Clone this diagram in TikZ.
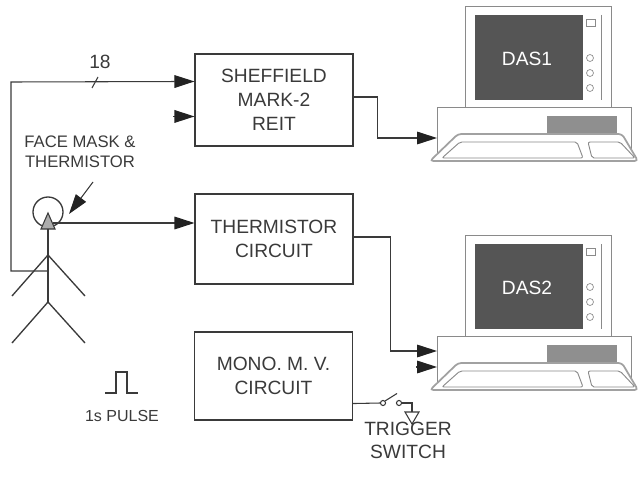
\documentclass[tikz,border=0pt]{standalone}
\usepackage{fontspec}
\setmainfont{Liberation Sans}
\usetikzlibrary{arrows.meta,calc}
\definecolor{ink}{HTML}{3A3A3A}
\definecolor{tipc}{HTML}{222222}
\definecolor{screen}{HTML}{555555}
\definecolor{slot}{HTML}{8F8F8F}
\definecolor{case}{HTML}{8A8A8A}
\begin{document}
\begin{tikzpicture}[x=0.75pt,y=-0.75pt,
  wire/.style={draw=ink, line width=0.8pt},
  arr/.style={wire, -{Triangle[length=15pt,width=9.5pt,color=tipc,fill=tipc]}},
  block/.style={draw=ink, line width=0.8pt, minimum width=118.5pt, inner sep=0pt,
    align=center, text=ink, font=\fontsize{14.4}{18}\selectfont},
  lbl/.style={text=ink, inner sep=0pt, align=center, font=\fontsize{14.4}{17.25}\selectfont},
  small/.style={text=ink, inner sep=0pt, align=center, font=\fontsize{12.5}{15}\selectfont},
  body/.style={draw=ink, line width=1pt},
  hw/.style={draw=case, line width=0.7pt},
  computer/.pic={
    % system unit
    \draw[hw, fill=white] (-28,101) rectangle (166,150);
    \coordinate (-in1) at (-28,116);
    \coordinate (-in2) at (-28,132);
    \fill[slot] (82,110) rectangle (152,127);
    % keyboard
    \draw[case!80, line width=1.3pt, fill=white, rounded corners=2.5pt]
      (-7,128) -- (157,128) -- (173,155) -- (-35,155) -- cycle;
    \draw[hw, rounded corners=1.5pt] (-5,136) -- (112,136) -- (118,152) -- (-23,152) -- cycle;
    \draw[hw, rounded corners=1.5pt] (123,136) -- (155,136) -- (170,152) -- (127,152) -- cycle;
    % monitor
    \draw[hw, fill=white] (0,0) rectangle (146,101);
    \fill[screen] (10,9) rectangle (118,94);
    \draw[hw] (136,9) -- (136,94);
    \draw[hw, line width=0.5pt] (121,13) rectangle (130,20);
    \foreach \cy in {52,67,82} \draw[hw, line width=0.5pt] (125,\cy) circle[radius=2.6pt];
    \node[text=white, font=\fontsize{14.4}{17}\selectfont, inner sep=0pt] (-label) at (62,53) {#1};
  }
]
\useasboundingbox (0,0) rectangle (640,478);

% processing blocks
\node[block, minimum height=69pt] (sheff) at (274,100) {SHEFFIELD\\MARK-2\\REIT};
\node[block, minimum height=67.5pt] (therm) at (274,239) {THERMISTOR\\CIRCUIT};
\node[block, minimum height=66pt] (mono) at (273.5,376) {MONO. M. V.\\CIRCUIT};

% data acquisition computers
\pic (das1) at (465,6) {computer=DAS1};
\pic (das2) at (465,235) {computer=DAS2};

% subject with face mask
\node[draw=ink, line width=1pt, circle, minimum size=22.5pt, inner sep=0pt] (head) at (48,212) {};
\filldraw[fill=gray!65, draw=ink, line width=0.8pt] (48,213) -- (55,229) -- (41,229) -- cycle;
\coordinate (sensor) at (53,223);
\coordinate (neck) at (48,229);
\coordinate (hip) at (48,302);
\coordinate (chest) at (48,271);
\draw[body] (neck) -- (hip);
\draw[body] (12,296) -- (48,255) -- (85,296);
\draw[body] (12,343) -- (hip) -- (85,343);

% electrode leads to the REIT system
\path (sheff.north west) ++(0,28) coordinate (s1);
\path (sheff.north west) ++(0,63) coordinate (s2);
\draw[arr] (chest) -- (11,271) -- (11,82) -- (s1);
\draw[wire] (92,88) -- (98,77);
\node[lbl] (n18) at (100,62) {18};
\draw[arr] ($(s2)+(-21,0)$) -- (s2);

% face mask label
\node[small] (fm) at (80,152) {FACE MASK \&\\THERMISTOR};
\coordinate (fmtail) at (93,182);
\coordinate (fmtip) at (69,214);
\draw[arr] (fmtail) -- (fmtip);

% thermistor signal
\draw[arr] (sensor) -- (therm.west |- sensor);

% pulse symbol
\draw[wire] (105,393) -- (116,393) -- (116,372) -- (127,372) -- (127,393) -- (138,393);
\node[small, font=\fontsize{12}{14}\selectfont] (pulse) at (122,416) {1s PULSE};

% outputs to the computers
\draw[arr] ([yshift=2.25pt]sheff.east) -- ++(24,0) |- (das1-in2);
\draw[arr] ([yshift=1.5pt]therm.east) -- ++(37,0) |- (das2-in1);
\draw[arr] ($(das2-in2)+(-21,0)$) -- (das2-in2);

% trigger switch
\path (mono.south east) ++(0,-17) coordinate (sw0);
\coordinate (swa) at (383,403);
\coordinate (swb) at (399,403);
\draw[wire] (sw0) -- ($(swa)+(-2.5,0)$);
\draw[wire] (swa) circle[radius=1.9pt];
\draw[wire] (swb) circle[radius=1.9pt];
\draw[wire] ($(swa)+(2,-2)$) -- (397,393.5);
\draw[wire] ($(swb)+(2.5,0)$) -- (412,403) -- (412,412);
\draw[wire] (405,412) -- (419,412) -- (412,424) -- cycle;
\node[lbl] (trig) at (408,440) {TRIGGER\\SWITCH};
\end{tikzpicture}
\end{document}
